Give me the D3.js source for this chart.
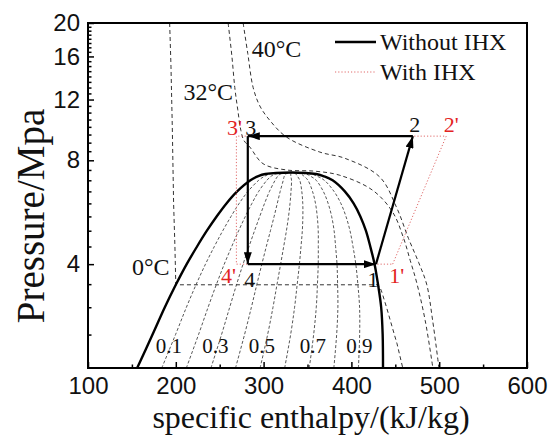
<!DOCTYPE html>
<html>
<head>
<meta charset="utf-8">
<script src="https://cdn.jsdelivr.net/npm/d3@7/dist/d3.min.js"></script>
<style>
  html, body { margin: 0; padding: 0; background: #fff; }
  svg { display: block; }
</style>
</head>
<body>
<svg id="chart" width="559" height="438"></svg>
<script>
// ---- Axis ticks ----
const xTicks = [100, 200, 300, 400, 500, 600];
const xMinorTicks = [150, 250, 350, 450, 550];
const yTicks = [4, 8, 12, 16, 20];
const yMinorTicks = [2.5, 3, 3.5, 4.5, 5, 5.5, 6, 6.5, 7, 7.5, 8.5, 9, 9.5, 10, 10.5, 11, 11.5,
                     12.5, 13, 13.5, 14, 14.5, 15, 15.5, 16.5, 17, 17.5, 18, 18.5, 19, 19.5];

// ---- CO2 saturation dome (pressure MPa, enthalpy kJ/kg) ----
const satPressure = [2.0, 2.5, 3.0, 3.485, 4.0, 4.5, 5.0, 5.5, 6.0, 6.5, 7.0, 7.2, 7.3, 7.377];
const satLiquid   = [156, 173.5, 187.5, 200.0, 212.4, 224.2, 235.4, 246.5, 257.7, 269.9, 285.0, 294.0, 302.0, 332];
const satVapor    = [436, 435.6, 433.9, 430.4, 426.4, 421.5, 416.5, 410.2, 402.5, 392.5, 378.6, 368.0, 360.0, 332];

// ---- Constant-quality lines, enthalpy at each satPressure ----
const qualities = [0.1, 0.2, 0.3, 0.4, 0.5, 0.6, 0.7, 0.8, 0.9];
const qualityEnthalpy = [
  [184, 199.7, 212.1, 223.0, 233.8, 243.9, 253.5, 262.9, 272.2, 282.2, 294.4, 301.4, 307.8, 332],
  [212, 225.9, 236.8, 246.1, 255.2, 263.7, 271.6, 279.2, 286.7, 294.4, 303.7, 308.8, 313.6, 332],
  [240, 252.1, 261.4, 269.1, 276.6, 283.4, 289.7, 295.6, 301.1, 306.7, 313.1, 316.2, 319.4, 332],
  [268, 278.3, 286.1, 292.2, 298.0, 303.1, 307.8, 312.0, 315.6, 318.9, 322.4, 323.6, 325.2, 332],
  [296, 304.6, 310.7, 315.2, 319.4, 322.9, 326.0, 328.4, 330.1, 331.2, 331.8, 331.0, 331.0, 332],
  [324, 330.8, 335.3, 338.2, 340.8, 342.6, 344.1, 344.7, 344.6, 343.5, 341.2, 338.4, 336.8, 332],
  [352, 357.0, 360.0, 361.3, 362.2, 362.3, 362.2, 361.1, 359.1, 355.7, 350.5, 345.8, 342.6, 332],
  [380, 383.2, 384.6, 384.3, 383.6, 382.0, 380.3, 377.5, 373.5, 368.0, 359.9, 353.2, 348.4, 332],
  [408, 409.4, 409.3, 407.4, 405.0, 401.8, 398.4, 393.8, 388.0, 380.2, 369.2, 360.6, 354.2, 332]
];
const qualityLabels = ["0.1", "0.3", "0.5", "0.7", "0.9"];
const qualityLabelEnthalpy = [192, 245, 298, 356, 409];

// ---- Isotherms: [enthalpy, pressure] ----
const isotherm0 = [
  [193, 20], [194.5, 15], [196, 10], [197.5, 6], [199, 4.5], [200, 3.485],
  [430.4, 3.485], [434, 3.36], [440, 3.0], [447, 2.6], [452, 2.35], [458.5, 2.0]
];
const isotherm32 = [
  [259.6, 20], [263.8, 16.1], [267.2, 13.0], [270.6, 11.2], [274.1, 9.77], [277.5, 9.14],
  [284.3, 8.74], [299.4, 7.82], [326, 7.5], [358, 7.44], [386.7, 7.24], [424.2, 6.55],
  [447, 5.66], [459.5, 4.75], [467, 4.1], [474.3, 3.54], [484, 2.75], [492.8, 2.0]
];
const isotherm40 = [
  [276.7, 20], [282, 16.3], [288.1, 13.0], [295.7, 11.5], [307.1, 10.44], [326.1, 9.34],
  [364.1, 8.45], [392.4, 8.11], [432.2, 7.16], [451.2, 5.86], [465, 4.75], [476.5, 4.05],
  [485.7, 3.5], [492.5, 2.75], [499.7, 2.0]
];
const isothermNames = ["0\u00b0C", "32\u00b0C", "40\u00b0C"];
const isothermLabelAt = [[171.4, 3.72], [236.9, 11.93], [314.7, 15.92]];

// ---- Refrigeration cycle state points [enthalpy, pressure] ----
const cycleNames = ["1", "2", "3", "4"];
const cycleBasic = [[428, 4.0], [470, 9.4], [282, 9.4], [282, 4.0]];
const cycleNamesIHX = ["1'", "2'", "3'", "4'"];
const cycleIHX = [[447, 4.0], [508, 9.4], [269, 9.4], [269, 4.0]];

const legendNames = ["Without IHX", "With IHX"];

// ---- Layout ----
const svg = d3.select("#chart");
const x = d3.scaleLinear().domain([100, 600]).range([88, 527]);
const y = d3.scaleLog().domain([2, 20]).range([368, 23]);
const serif = "'Liberation Serif', 'Times New Roman', serif";
const sans = "'Liberation Sans', Arial, sans-serif";
const red = "#e3231f";

const line = d3.line().x(d => x(d[0])).y(d => y(d[1]));
const smooth = d3.line().x(d => x(d[0])).y(d => y(d[1])).curve(d3.curveCatmullRom.alpha(0.5));

svg.append("defs").append("clipPath").attr("id", "plotClip")
  .append("rect").attr("x", 88).attr("y", 23).attr("width", 439).attr("height", 345);

const plot = svg.append("g").attr("clip-path", "url(#plotClip)");

// quality lines
qualityEnthalpy.forEach(hs => {
  plot.append("path")
    .datum(hs.map((h, i) => [h, satPressure[i]]))
    .attr("d", smooth)
    .attr("fill", "none").attr("stroke", "#444").attr("stroke-width", 0.9)
    .attr("stroke-dasharray", "3,2");
});

// isotherms
plot.append("path").datum(isotherm0).attr("d", line)
  .attr("fill", "none").attr("stroke", "#333").attr("stroke-width", 1)
  .attr("stroke-dasharray", "4,3");
[isotherm32, isotherm40].forEach(iso => {
  plot.append("path").datum(iso).attr("d", smooth)
    .attr("fill", "none").attr("stroke", "#333").attr("stroke-width", 1)
    .attr("stroke-dasharray", "4,3");
});

// saturation dome
const dome = satLiquid.map((h, i) => [h, satPressure[i]])
  .concat(satVapor.map((h, i) => [h, satPressure[i]]).reverse().slice(1));
plot.append("path").datum(dome).attr("d", smooth)
  .attr("fill", "none").attr("stroke", "#000").attr("stroke-width", 2.4);

// cycle with internal heat exchanger (dotted red)
plot.append("path").datum(cycleIHX.concat([cycleIHX[0]])).attr("d", line)
  .attr("fill", "none").attr("stroke", "#e06a6a").attr("stroke-width", 1)
  .attr("stroke-dasharray", "1.2,2");

// basic cycle with arrows
const defs = svg.select("defs");
defs.append("marker").attr("id", "arrow")
  .attr("viewBox", "0 0 12 8").attr("refX", 12).attr("refY", 4)
  .attr("markerWidth", 12).attr("markerHeight", 8)
  .attr("markerUnits", "userSpaceOnUse").attr("orient", "auto")
  .append("path").attr("d", "M0,0 L12,4 L0,8 Z").attr("fill", "#000");

cycleBasic.forEach((p, i) => {
  const q = cycleBasic[(i + 1) % cycleBasic.length];
  plot.append("path").datum([p, q]).attr("d", line)
    .attr("fill", "none").attr("stroke", "#000").attr("stroke-width", 2.2)
    .attr("marker-end", "url(#arrow)");
});

// ---- Frame and axes ----
const xAxis = svg.append("g").attr("transform", "translate(0,368)")
  .call(d3.axisBottom(x).tickValues(xTicks).tickSize(-6).tickPadding(9));
const xMinor = svg.append("g").attr("transform", "translate(0,368)")
  .call(d3.axisBottom(x).tickValues(xMinorTicks).tickSize(-3.5).tickFormat(""));
const yAxis = svg.append("g").attr("transform", "translate(88,0)")
  .call(d3.axisLeft(y).tickValues(yTicks).tickSize(-6).tickPadding(8).tickFormat(d3.format("d")));
const yMinor = svg.append("g").attr("transform", "translate(88,0)")
  .call(d3.axisLeft(y).tickValues(yMinorTicks).tickSize(-3.5).tickFormat(""));

[xAxis, xMinor, yAxis, yMinor].forEach(g => {
  g.select(".domain").remove();
  g.selectAll("line").attr("stroke", "#000").attr("stroke-width", 1.5);
  g.selectAll("text").attr("font-family", sans).attr("font-size", 24).attr("fill", "#111");
});

svg.append("rect").attr("x", 88).attr("y", 23).attr("width", 439).attr("height", 345)
  .attr("fill", "none").attr("stroke", "#000").attr("stroke-width", 2);

// axis titles
svg.append("text").attr("x", 311).attr("y", 428).attr("text-anchor", "middle")
  .attr("font-family", serif).attr("font-size", 32).attr("fill", "#111")
  .text("specific enthalpy/(kJ/kg)");
svg.append("text").attr("transform", "translate(44,216) rotate(-90)")
  .attr("text-anchor", "middle").attr("font-family", serif).attr("font-size", 39)
  .attr("fill", "#111").text("Pressure/Mpa");

// ---- Annotations ----
qualityLabels.forEach((t, i) => {
  svg.append("text").attr("x", x(qualityLabelEnthalpy[i])).attr("y", y(2.21))
    .attr("text-anchor", "middle").attr("font-family", serif).attr("font-size", 21)
    .attr("fill", "#111").text(t);
});
isothermNames.forEach((t, i) => {
  svg.append("text").attr("x", x(isothermLabelAt[i][0])).attr("y", y(isothermLabelAt[i][1]))
    .attr("text-anchor", "middle").attr("font-family", serif).attr("font-size", 24)
    .attr("fill", "#111").text(t);
});

const basicOffsets = [[-3, 23], [2, -4], [3, -1], [2, 23]];
const ihxOffsets = [[4, 19], [5, -4], [-2, -1], [-8, 19]];
cycleBasic.forEach((p, i) => {
  svg.append("text").attr("x", x(p[0]) + basicOffsets[i][0]).attr("y", y(p[1]) + basicOffsets[i][1])
    .attr("text-anchor", "middle").attr("font-family", serif).attr("font-size", 22)
    .attr("fill", "#111").text(cycleNames[i]);
});
cycleIHX.forEach((p, i) => {
  svg.append("text").attr("x", x(p[0]) + ihxOffsets[i][0]).attr("y", y(p[1]) + ihxOffsets[i][1])
    .attr("text-anchor", "middle").attr("font-family", serif).attr("font-size", 22)
    .attr("fill", red).text(cycleNamesIHX[i]);
});

// ---- Legend ----
const legend = svg.append("g");
legend.append("line").attr("x1", 335).attr("x2", 376).attr("y1", 42).attr("y2", 42)
  .attr("stroke", "#000").attr("stroke-width", 2.5);
legend.append("line").attr("x1", 335).attr("x2", 376).attr("y1", 72).attr("y2", 72)
  .attr("stroke", "#e06a6a").attr("stroke-width", 1).attr("stroke-dasharray", "1.2,2");
legendNames.forEach((t, i) => {
  legend.append("text").attr("x", 380).attr("y", 50 + 30 * i)
    .attr("font-family", serif).attr("font-size", 24).attr("fill", "#111").text(t);
});
</script>
</body>
</html>
